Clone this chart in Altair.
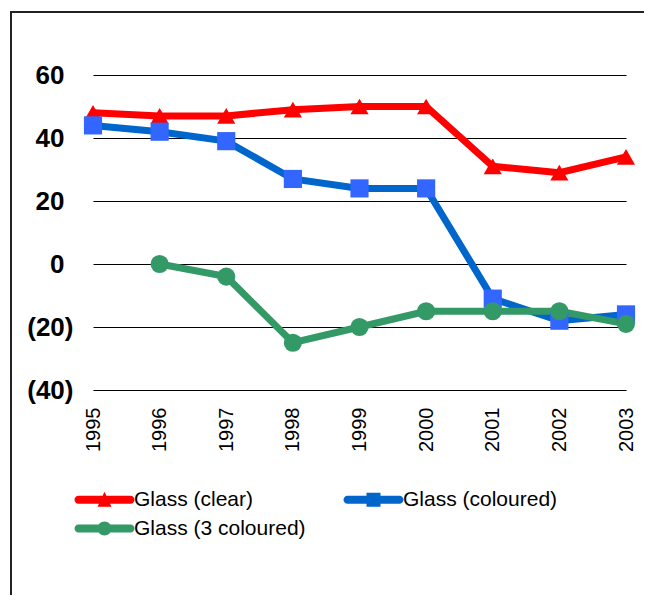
import altair as alt
import pandas as pd

years = [1995, 1996, 1997, 1998, 1999, 2000, 2001, 2002, 2003]
clear = [48, 47, 47, 49, 50, 50, 31, 29, 34]
coloured = [44, 42, 39, 27, 24, 24, -11, -18, -16]
three_coloured = [None, 0, -4, -25, -20, -15, -15, -15, -19]
series = ["Glass (clear)", "Glass (coloured)", "Glass (3 coloured)"]
line_colors = ["#FF0000", "#0066CC", "#339966"]
marker_colors = ["#FF0000", "#3366FF", "#339966"]
marker_shapes = ["triangle-up", "square", "circle"]
y_ticks = [-40, -20, 0, 20, 40, 60]

LINE = ("M -0.6 -0.4 L 4.6 -0.4 L 4.6 0.4 L -0.6 0.4 Z "
        "M -1 0 A 0.4 0.4 0 1 1 -0.2 0 A 0.4 0.4 0 1 1 -1 0 Z "
        "M 4.2 0 A 0.4 0.4 0 1 1 5 0 A 0.4 0.4 0 1 1 4.2 0 Z ")
legend_paths = {
    "Glass (clear)": LINE + "M 2 -0.8 L 2.7 0.7 L 1.3 0.7 Z",
    "Glass (coloured)": LINE + "M 1.3 -0.7 L 2.7 -0.7 L 2.7 0.7 L 1.3 0.7 Z",
    "Glass (3 coloured)": LINE + "M 1.3 0 A 0.7 0.7 0 1 1 2.7 0 A 0.7 0.7 0 1 1 1.3 0 Z",
}
# legend is laid out column by column: this order gives row 1 = clear, coloured
legend_order = ["Glass (clear)", "Glass (3 coloured)", "Glass (coloured)"]
legend_colors = [line_colors[series.index(s)] for s in legend_order]
legend_shapes = [legend_paths[s] for s in legend_order]

rows = []
for name, vals in zip(series, [clear, coloured, three_coloured]):
    for yr, v in zip(years, vals):
        if v is not None:
            rows.append({"Year": str(yr), "Series": name, "Value": v})
df = pd.DataFrame(rows)

FONT = "Liberation Sans"

x_enc = alt.X("Year:O", scale=alt.Scale(padding=0),
              axis=alt.Axis(title=None, labelAngle=270, domain=False, ticks=False,
                            grid=False, labelFontSize=20, labelPadding=17,
                            labelColor="black", labelFont=FONT))
y_enc = alt.Y("Value:Q", scale=alt.Scale(domain=[-40, 60], nice=False),
              axis=alt.Axis(title=None, values=y_ticks, domain=False, ticks=False,
                            grid=True, gridColor="#000000", gridWidth=1,
                            labelFontSize=26, labelFontWeight="bold",
                            labelPadding={"condition": {"test": "datum.value < 0", "value": 20},
                                          "value": 29},
                            labelColor="black", labelFont=FONT,
                            labelExpr="datum.value < 0 ? '(' + abs(datum.value) + ')' : datum.value"))

base = alt.Chart(df)

lines = base.mark_line(strokeWidth=7).encode(
    x=x_enc, y=y_enc,
    color=alt.Color("Series:N", scale=alt.Scale(domain=series, range=line_colors), legend=None),
    detail="Series:N",
)

points = base.mark_point(filled=True, opacity=1, size=330).encode(
    x=x_enc, y=y_enc,
    color=alt.Color("Series:N", scale=alt.Scale(domain=series, range=marker_colors), legend=None),
    shape=alt.Shape("Series:N", scale=alt.Scale(domain=series, range=marker_shapes), legend=None),
)

leg = alt.Legend(title=None, orient="none", legendX=-19, legendY=414, columns=2,
                 columnPadding=37, rowPadding=7, symbolSize=400, symbolStrokeWidth=0,
                 labelFontSize=21, labelFont=FONT, labelColor="black", labelOffset=39,
                 labelLimit=400)

legend_layer = base.mark_point(filled=True, opacity=1).encode(
    x=x_enc, y=y_enc,
    color=alt.Color("Series:N", scale=alt.Scale(domain=legend_order, range=legend_colors), legend=leg),
    shape=alt.Shape("Series:N", scale=alt.Scale(domain=legend_order, range=legend_shapes), legend=leg),
).transform_filter("false")

frame_df = pd.DataFrame({"k": [0]})
frame_left = alt.Chart(frame_df).mark_rule(color="#222222", strokeWidth=2).encode(
    x=alt.value(-82), y=alt.value(-63), y2=alt.value(560))
frame_top = alt.Chart(frame_df).mark_rule(color="#222222", strokeWidth=2).encode(
    x=alt.value(-83), x2=alt.value(620), y=alt.value(-63))

chart = alt.layer(frame_left, frame_top, lines, points, legend_layer).resolve_scale(
    color="independent", shape="independent"
).properties(
    width=533, height=315,
    autosize=alt.AutoSizeParams(type="none"),
    padding={"left": 85, "top": 67, "right": 18, "bottom": 205},
    background="white",
).configure_view(stroke=None)

chart.save("out.html", embed_options={"renderer": "svg", "actions": False})
